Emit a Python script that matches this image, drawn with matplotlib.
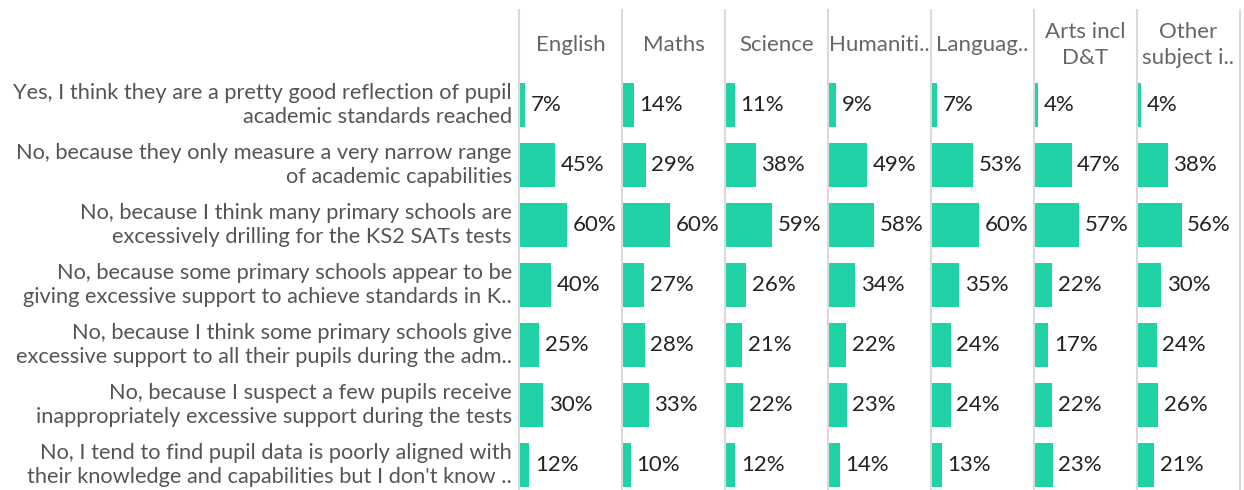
import matplotlib
matplotlib.use('Agg')
import matplotlib.pyplot as plt

plt.rcParams['font.family'] = ['Lato', 'DejaVu Sans']

subjects = ['English', 'Maths', 'Science', 'Humaniti..', 'Languag..',
            'Arts incl\nD&T', 'Other\nsubject i..']
answers = [
    'Yes, I think they are a pretty good reflection of pupil\nacademic standards reached',
    'No, because they only measure a very narrow range\nof academic capabilities',
    'No, because I think many primary schools are\nexcessively drilling for the KS2 SATs tests',
    'No, because some primary schools appear to be\ngiving excessive support to achieve standards in K..',
    'No, because I think some primary schools give\nexcessive support to all their pupils during the adm..',
    'No, because I suspect a few pupils receive\ninappropriately excessive support during the tests',
    "No, I tend to find pupil data is poorly aligned with\ntheir knowledge and capabilities but I don't know ..",
]
english = [7, 45, 60, 40, 25, 30, 12]
maths = [14, 29, 60, 27, 28, 33, 10]
science = [11, 38, 59, 26, 21, 22, 12]
humanities = [9, 49, 58, 34, 22, 23, 14]
languages = [7, 53, 60, 35, 24, 24, 13]
arts = [4, 47, 57, 22, 17, 22, 23]
other = [4, 38, 56, 30, 24, 26, 21]
series = [english, maths, science, humanities, languages, arts, other]

BAR = '#20D3A6'
GRID = '#d9d9d9'
W, H = 1244, 490

fig = plt.figure(figsize=(W / 100, H / 100), dpi=100)

col_left = 519
col_w = 103
top = 75
row_h = 60
n_rows = len(answers)
bottom = top + n_rows * row_h

for j, (name, vals) in enumerate(zip(subjects, series)):
    x0 = col_left + j * col_w
    ax = fig.add_axes([(x0 + 1) / W, (H - bottom) / H, (col_w - 1) / W, (bottom - top) / H])
    ax.barh(range(n_rows), vals, height=44 / 60, color=BAR, left=0)
    ax.set_xlim(0, 131)
    ax.set_ylim(n_rows - 0.5, -0.5)
    ax.axis('off')
    for i, v in enumerate(vals):
        ax.annotate(f'{v}%', (v, i), xytext=(4, 0), textcoords='offset points',
                    ha='left', va='center', fontsize=16, color='#222222')
    # header
    fig.text((x0 + col_w / 2) / W, 1 - 45 / H, name, ha='center', va='center',
             fontsize=16, color='#666666', linespacing=1.42)

# column separators
for j in range(len(subjects) + 1):
    x = (col_left + j * col_w) / W
    fig.add_artist(plt.Line2D([x, x], [0, 1 - 10 / H], color=GRID, lw=1.5))

# row labels
for i, lab in enumerate(answers):
    yc = top + row_h * i + row_h / 2
    fig.text(512 / W, 1 - yc / H, lab, ha='right', va='center', fontsize=15.7,
             color='#555555', linespacing=1.3)

fig.savefig('out.png', dpi=100)
